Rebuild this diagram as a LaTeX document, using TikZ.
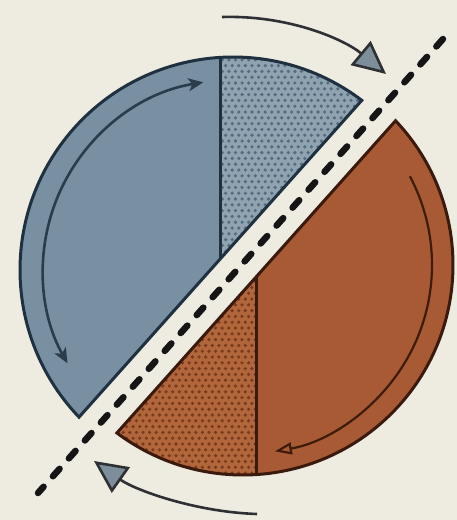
\documentclass[tikz,border=0pt]{standalone}
\usetikzlibrary{arrows.meta,calc}
\definecolor{bgc}{HTML}{EEEBE1}
\definecolor{bluefill}{HTML}{7890A2}
\definecolor{bluedotbase}{HTML}{8FA3B1}
\definecolor{bluedot}{HTML}{566C7E}
\definecolor{blueedge}{HTML}{1F3140}
\definecolor{blueinner}{HTML}{2A3D4D}
\definecolor{orangefill}{HTML}{A85A35}
\definecolor{orangedotbase}{HTML}{B2663C}
\definecolor{orangedot}{HTML}{7A3B1C}
\definecolor{orangeedge}{HTML}{3B1A0E}
\definecolor{orangeinner}{HTML}{3F1B0C}
\definecolor{arrowline}{HTML}{2F3033}
\definecolor{headfill}{HTML}{7B8E9A}
\definecolor{dashc}{HTML}{151515}
\begin{document}
\begin{tikzpicture}[x=1pt,y=-1pt,
  blueedgestyle/.style={draw=blueedge,line width=3pt,line join=miter},
  orangeedgestyle/.style={draw=orangeedge,line width=3pt,line join=miter},
  outerarrow/.style={draw=arrowline,line width=2.6pt,
    -{Triangle[length=33pt,width=31pt,fill=headfill,line join=miter]}},
  dashline/.style={draw=dashc,line width=6.5pt,line cap=round,dash pattern=on 10pt off 14pt}]
\useasboundingbox (0,0) rectangle (457,520);
\fill[bgc] (0,0) rectangle (457,520);

\coordinate (Cb) at (233,270);
\coordinate (Co) at (243,265);
\coordinate (Db) at (220.3,258.7);
\coordinate (Dt) at (220.3,57.4);
\coordinate (Eo) at (256.3,276.8);
\coordinate (Eb) at (256.3,474.6);
\coordinate (L1) at (443,39);
\coordinate (L2) at (38,493);
\coordinate (Ba) at ($(Cb)+(-52.8:213)$);
\coordinate (Oa) at ($(Co)+(-43.4:210)$);

% ---------- blue piece ----------
\fill[bluefill] (Ba) arc[start angle=-52.8, end angle=-223.7, radius=213] -- cycle;
\begin{scope}
  \clip (Ba) arc[start angle=-52.8, end angle=-223.7, radius=213] -- cycle;
  \clip (220.3,40) rectangle (470,300);
  \fill[bluedotbase] (200,40) rectangle (470,300);
  \foreach \r in {0,...,36}{
    \foreach \c in {0,...,23}{
      \fill[bluedot] ({219+\c*6.6+mod(\r,2)*3.3},{54+\r*5.8}) circle[radius=1.8pt];
    }
  }
\end{scope}
\draw[blueedgestyle] (Db) -- (Dt);
\draw[blueedgestyle] (Ba) arc[start angle=-52.8, end angle=-223.7, radius=213] -- cycle;

% ---------- orange piece ----------
\fill[orangefill] (Oa) arc[start angle=-43.4, end angle=126.9, radius=210] -- cycle;
\begin{scope}
  \clip (Oa) arc[start angle=-43.4, end angle=126.9, radius=210] -- cycle;
  \clip (100,260) rectangle (256.3,490);
  \fill[orangedotbase] (100,260) rectangle (260,490);
  \foreach \r in {0,...,37}{
    \foreach \c in {0,...,24}{
      \fill[orangedot] ({110+\c*6.6+mod(\r,2)*3.3},{270+\r*5.8}) circle[radius=1.8pt];
    }
  }
\end{scope}
\draw[orangeedgestyle] (Eo) -- (Eb);
\draw[orangeedgestyle] (Oa) arc[start angle=-43.4, end angle=126.9, radius=210] -- cycle;

% ---------- inner arrows ----------
\coordinate (bi1) at ($(Cb)+(-99:190)$);
\draw[draw=blueinner,line width=2.6pt,
  {Stealth[length=15pt,width=13pt,inset=4pt]}-{Stealth[length=15pt,width=13pt,inset=4pt]}]
  (bi1) arc[start angle=-99, end angle=-209.4, radius=190];
\coordinate (oi1) at ($(Co)+(-28:189)$);
\draw[draw=orangeinner,line width=2.2pt,
  -{Triangle[open,length=17pt,width=12pt]}]
  (oi1) arc[start angle=-28, end angle=80.3, radius=189];

% ---------- dashed cut line ----------
\draw[dashline] (L1) -- (L2);

% ---------- outer arrows ----------
\coordinate (T0) at (222,17);
\coordinate (T1) at (386,74);
\coordinate (B0) at (257,514);
\coordinate (B1) at (94,461);
\draw[outerarrow] (T0) .. controls (290,15) and (345,40) .. (T1);
\draw[outerarrow] (B0) .. controls (195,512) and (135,490) .. (B1);
\end{tikzpicture}
\end{document}
